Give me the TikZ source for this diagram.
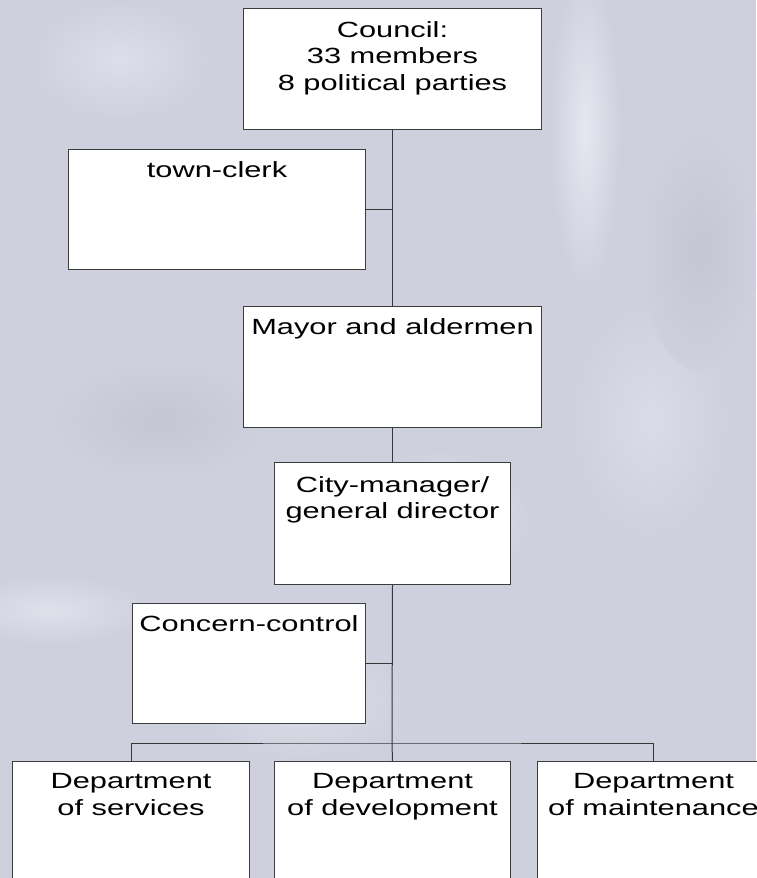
\documentclass[tikz,border=0pt]{standalone}
\usepackage{fontspec}
\setmainfont{Liberation Sans}[FakeStretch=1.40]
\definecolor{bg}{RGB}{206,208,221}
\definecolor{bglight}{RGB}{230,231,240}
\definecolor{bgdark}{RGB}{196,198,212}
\definecolor{edge}{RGB}{60,60,60}
\begin{document}
\begin{tikzpicture}[x=1pt,y=-1pt,
  box/.style={draw=edge,fill=white,line width=1pt,rectangle,inner sep=0pt,anchor=north west},
  txt/.style={anchor=north,align=center,inner sep=0pt,font=\fontsize{22}{26.3}\selectfont},
  wire/.style={draw=edge!90!black,line width=1pt}]
\useasboundingbox (0,0) rectangle (756,878);
% background
\fill[bg] (0,0) rectangle (756,878);
\begin{scope}
\clip (0,0) rectangle (756,878);
\shade[inner color=bglight,outer color=bg] (585,130) ellipse (35 and 160);
\shade[inner color=bglight,outer color=bg] (440,520) ellipse (90 and 70);
\shade[inner color=bglight!70!bg,outer color=bg] (50,610) ellipse (100 and 35);
\shade[inner color=bglight!60!bg,outer color=bg] (120,60) ellipse (90 and 60);
\shade[inner color=bglight!60!bg,outer color=bg] (300,700) ellipse (110 and 60);
\shade[inner color=bglight!50!bg,outer color=bg] (650,420) ellipse (80 and 120);
\shade[inner color=bgdark,outer color=bg] (700,250) ellipse (60 and 120);
\shade[inner color=bgdark,outer color=bg] (160,420) ellipse (110 and 60);
\end{scope}
% boxes
\node[box,minimum width=298,minimum height=121] (council) at (243,8) {};
\node[box,minimum width=297,minimum height=120] (clerk) at (68,149) {};
\node[box,minimum width=298,minimum height=121] (mayor) at (243,306) {};
\node[box,minimum width=236,minimum height=122] (city) at (274,462) {};
\node[box,minimum width=233,minimum height=120] (concern) at (132,603) {};
\node[box,minimum width=237,minimum height=130] (dserv) at (12,761) {};
\node[box,minimum width=236,minimum height=130] (ddev) at (274,761) {};
\node[box,minimum width=232,minimum height=130] (dmaint) at (537,761) {};
% texts
\node[txt,yshift=-13.5pt] (councilT) at (council.north) {Council:\\33 members\\8 political parties};
\node[txt,yshift=-12.5pt] (clerkT) at (clerk.north) {town-clerk};
\node[txt,yshift=-12.5pt] (mayorT) at (mayor.north) {Mayor and aldermen};
\node[txt,yshift=-14.5pt] (cityT) at (city.north) {City-manager/\\general director};
\node[txt,yshift=-12.5pt] (concernT) at (concern.north) {Concern-control};
\node[txt,yshift=-12.5pt] (dservT) at (dserv.north) {Department\\of services};
\node[txt,yshift=-12.5pt] (ddevT) at (ddev.north) {Department\\of development};
\node[txt,yshift=-12.5pt] (dmaintT) at (dmaint.north) {Department\\of maintenance};
% connectors
\coordinate (bus) at (392,743);
\draw[wire] (council.south) -- (mayor.north);
\draw[wire] (clerk.east) -- (clerk.east -| council.south);
\draw[wire] (mayor.south) -- (city.north);
\draw[wire] (city.south) -- (bus);
\draw[wire] (concern.east) -- (concern.east -| city.south);
\draw[wire] (bus) -- (ddev.north);
\draw[wire] (dserv.north) |- (bus) -| (dmaint.north);
\end{tikzpicture}
\end{document}
